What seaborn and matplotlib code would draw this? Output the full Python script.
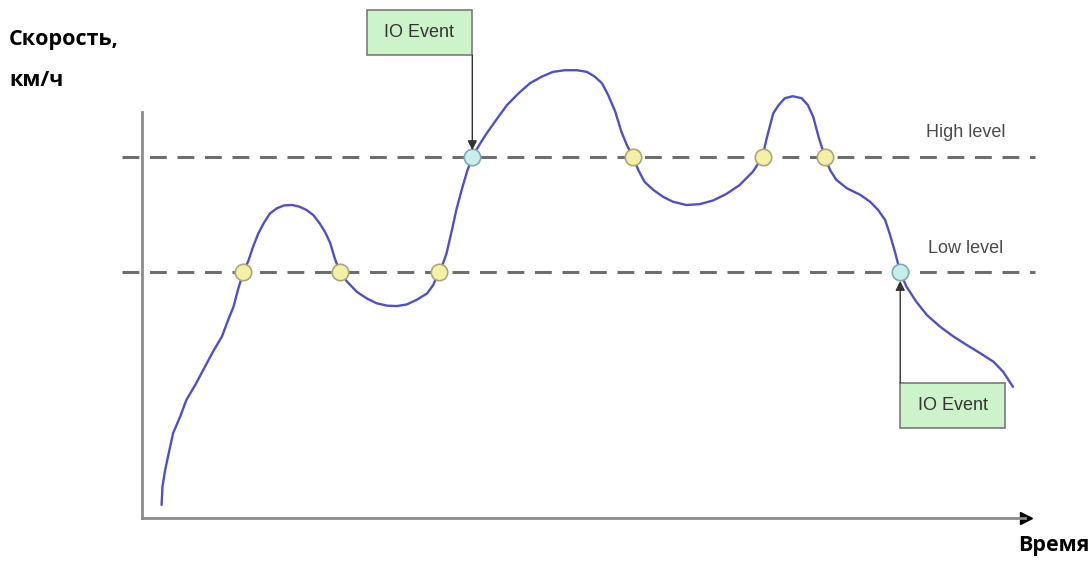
import matplotlib
matplotlib.use("Agg")
import matplotlib.pyplot as plt
import seaborn as sns
import pandas as pd
from matplotlib.patches import Rectangle

# speed curve (time 0..100, speed 0..100 = top of y axis)
time = [2.2, 2.3, 2.6, 3.0, 3.5, 4.3, 5.0, 6.0, 6.9, 8.0, 9.0, 9.7, 10.3, 10.8,
        11.4, 12.0, 12.5, 13.1, 13.7, 14.4, 15.2, 16.0, 16.9, 17.7, 18.5, 19.3,
        20.0, 20.6, 21.2, 21.7, 22.3, 23.1, 24.2, 25.3, 26.4, 27.6, 28.7, 29.8,
        30.9, 32.1, 32.8, 33.4, 33.9, 34.3, 34.9, 35.4, 36.0, 36.6, 37.2, 38.1,
        38.8, 40.0, 41.1, 42.4, 43.7, 45.0, 46.3, 47.6, 49.0, 50.1, 51.0, 51.8,
        52.5, 53.3, 54.0, 54.6, 55.3, 55.9, 56.6, 57.6, 58.7, 59.8, 61.3, 62.8,
        64.3, 65.8, 67.3, 68.8, 69.9, 70.3, 70.7, 71.1, 71.7, 72.4, 73.3, 74.3,
        75.0, 75.6, 76.2, 76.9, 77.5, 78.2, 79.4, 80.9, 82.0, 82.9, 83.7, 84.2,
        84.8, 85.4, 86.1, 87.2, 88.4, 89.9, 91.4, 92.9, 94.4, 95.9, 97.0, 98.1]
speed = [3.2, 7.7, 11.8, 15.9, 20.9, 25.0, 29.1, 32.8, 36.5, 41.0, 44.7, 48.8,
         52.0, 56.2, 60.5, 63.5, 66.8, 70.1, 72.6, 75.0, 76.3, 77.0, 77.1, 76.7,
         75.9, 74.6, 72.6, 70.5, 67.7, 64.0, 60.5, 58.2, 55.7, 54.1, 52.9, 52.3,
         52.2, 52.6, 53.7, 55.3, 57.4, 60.5, 62.7, 65.2, 70.9, 75.9, 80.8, 85.3,
         89.0, 92.3, 94.7, 98.4, 101.7, 104.6, 107.1, 108.7, 109.9, 110.3, 110.3,
         109.9, 108.7, 107.1, 104.2, 100.1, 95.1, 91.9, 89.0, 85.7, 82.8, 80.8,
         79.1, 77.9, 77.1, 77.3, 78.2, 79.8, 82.0, 85.3, 89.0, 93.0, 96.4, 99.7,
         101.7, 103.4, 103.9, 103.4, 101.7, 98.8, 93.9, 89.0, 85.7, 83.3, 81.2,
         79.6, 77.9, 75.9, 73.4, 70.1, 65.6, 60.5, 57.0, 53.3, 50.0, 47.1, 44.7,
         42.6, 40.6, 38.5, 36.0, 32.3]

high_level = 89.0
low_level = 60.5
level_labels = ["High level", "Low level"]

# threshold crossings
cross_time = [11.4, 22.3, 33.4, 37.2, 55.3, 69.9, 76.9, 85.4]
cross_speed = [60.5, 60.5, 60.5, 89.0, 89.0, 89.0, 89.0, 60.5]
cross_event = [False, False, False, True, False, False, False, True]
event_label = "IO Event"

y_label = ["Скорость,", "км/ч"]
x_label = "Время"

sns.set_theme(style="white")
plt.rcParams["font.family"] = ["Liberation Sans", "DejaVu Sans"]

fig = plt.figure(figsize=(10.92, 5.61), dpi=100)
ax = fig.add_axes([0, 0, 1, 1])
ax.set_xlim(-16.0, 107.0)
ax.set_ylim(-10.6, 127.6)

# axes
for s in ["top", "right"]:
    ax.spines[s].set_visible(False)
ax.spines["left"].set_position(("data", 0))
ax.spines["bottom"].set_position(("data", 0))
ax.spines["left"].set_bounds(0, 100)
ax.spines["bottom"].set_bounds(0, 99.5)
for s in ["left", "bottom"]:
    ax.spines[s].set_color("#8c8c8c")
    ax.spines[s].set_linewidth(2)
ax.set_xticks([])
ax.set_yticks([])
ax.plot([99.6], [0], marker=">", color="black", markersize=8, clip_on=False)

# level lines
for lvl, lab in zip([high_level, low_level], level_labels):
    line, = ax.plot([-2.3, 100.6], [lvl, lvl], color="#6e6e6e", lw=2.2)
    line.set_dashes((5.5, 3.5))
    ax.text(92.8, lvl + 6, lab, ha="center", va="center", fontsize=13,
            color="#4a4a4a")

# curve
df = pd.DataFrame({"t": time, "v": speed})
sns.lineplot(data=df, x="t", y="v", sort=False, estimator=None, ax=ax,
             color="#4f4fc8", lw=1.7, zorder=3)
ax.lines[-1].set_solid_joinstyle("round")

# crossing points
pts = pd.DataFrame({"t": cross_time, "v": cross_speed, "ev": cross_event})
sns.scatterplot(data=pts[~pts.ev], x="t", y="v", ax=ax, s=140,
                color="#f4f1a6", edgecolor="#a9a77a", linewidth=1.2, zorder=4)
sns.scatterplot(data=pts[pts.ev], x="t", y="v", ax=ax, s=140,
                color="#c6efe9", edgecolor="#7fa9b8", linewidth=1.2, zorder=4)
ax.set_xlabel("")
ax.set_ylabel("")

# IO event boxes with arrows
ev = pts[pts.ev].reset_index(drop=True)
boxes = [(ev.t[0] - 11.9, 114.0, 11.9, 11.1, 114.0, ev.v[0] + 1.6),
         (ev.t[1], 22.2, 11.8, 11.1, 33.3, ev.v[1] - 2.1)]
for (x0, y0, w, h, ys, ye), tx in zip(boxes, ev.t):
    ax.add_patch(Rectangle((x0, y0), w, h, facecolor="#cdf3cb",
                           edgecolor="#7a7a7a", lw=1.2, zorder=5,
                           clip_on=False))
    ax.text(x0 + w / 2, y0 + h / 2, event_label, ha="center", va="center",
            fontsize=13, color="#333333", zorder=6)
    ax.annotate("", xy=(tx, ye), xytext=(tx, ys),
                arrowprops=dict(arrowstyle="-|>", color="#333333", lw=1.0,
                                mutation_scale=14, shrinkA=0, shrinkB=0),
                zorder=5)

# axis captions
cap = dict(fontsize=15.5, fontweight="bold", color="black",
           family=["Open Sans", "DejaVu Sans"], va="center")
fig.text(9 / 1092, 1 - 40 / 561, y_label[0], ha="left", **cap)
fig.text(9 / 1092, 1 - 81 / 561, y_label[1], ha="left", **cap)
fig.text(1089 / 1092, 1 - 546 / 561, x_label, ha="right", **cap)

fig.savefig("out.png", dpi=100)
